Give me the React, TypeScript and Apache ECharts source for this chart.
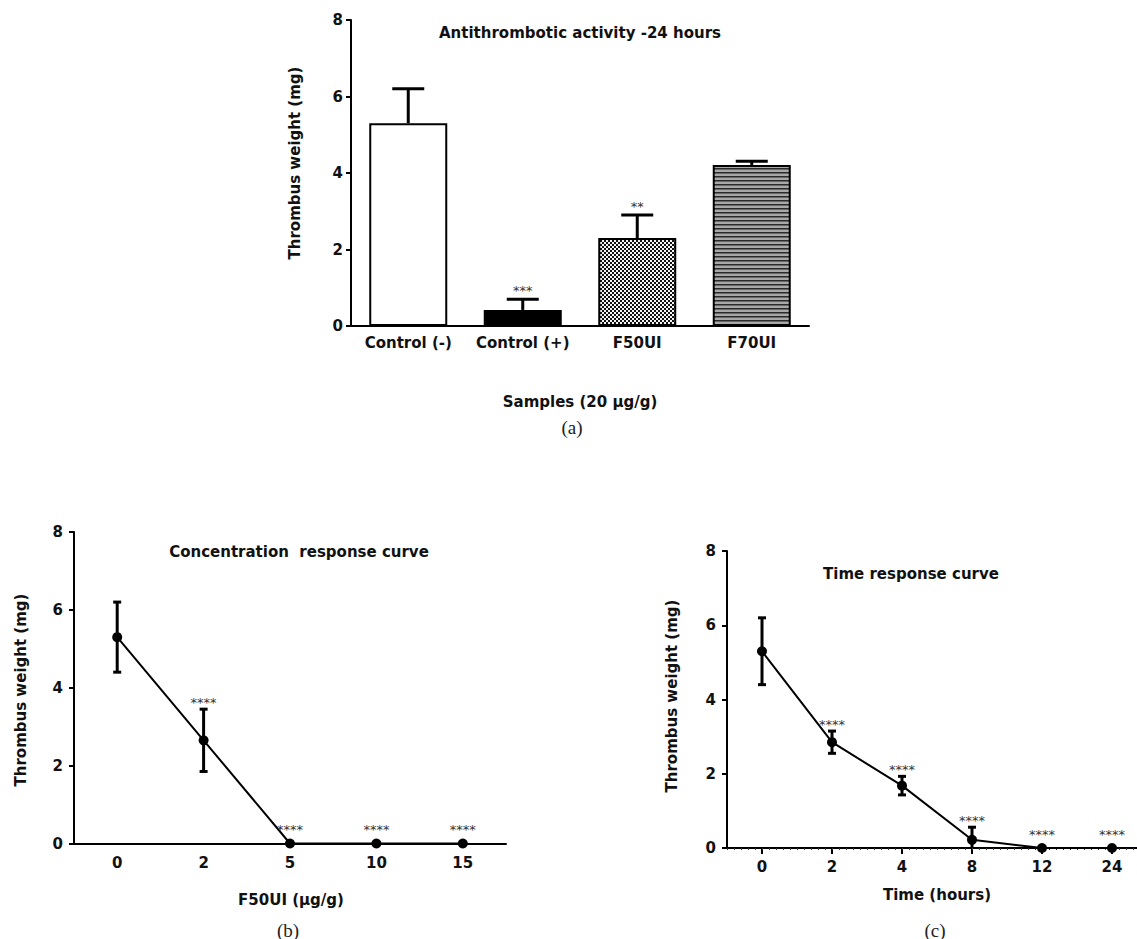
import React, { useEffect, useRef } from "react";
import * as echarts from "echarts";

// ---------- Data ----------
const sampleCategories = ["Control (-)", "Control (+)", "F50UI", "F70UI"];
const sampleMeans = [5.3, 0.42, 2.3, 4.21];
const sampleErrors = [0.9, 0.28, 0.6, 0.1];
const sampleStars = ["", "***", "**", ""];

const concLabels = ["0", "2", "5", "10", "15"];
const concMeans = [5.3, 2.65, 0, 0, 0];
const concErrors = [0.9, 0.8, 0, 0, 0];
const concStars = ["", "****", "****", "****", "****"];

const timeLabels = ["0", "2", "4", "8", "12", "24"];
const timeMeans = [5.3, 2.85, 1.68, 0.22, 0, 0];
const timeErrors = [0.9, 0.3, 0.25, 0.34, 0, 0];
const timeStars = ["", "****", "****", "****", "****", "****"];

const yTicks = [0, 2, 4, 6, 8];

const FONT = "DejaVu Sans";
const SERIF = "Liberation Serif";

function makeChecker(): HTMLCanvasElement {
  const c = document.createElement("canvas");
  c.width = 4;
  c.height = 4;
  const g = c.getContext("2d")!;
  g.fillStyle = "#f4f4f4";
  g.fillRect(0, 0, 4, 4);
  g.fillStyle = "#111";
  g.fillRect(0, 0, 2, 2);
  g.fillRect(2, 2, 2, 2);
  return c;
}

function makeStripes(): HTMLCanvasElement {
  const c = document.createElement("canvas");
  c.width = 4;
  c.height = 4;
  const g = c.getContext("2d")!;
  g.fillStyle = "#a8a8a8";
  g.fillRect(0, 0, 4, 4);
  g.fillStyle = "#2a2a2a";
  g.fillRect(0, 0, 4, 1);
  g.fillStyle = "#666";
  g.fillRect(0, 1, 4, 1);
  return c;
}

const axisLabelStyle = {
  fontFamily: FONT,
  fontWeight: "bold" as const,
  fontSize: 15,
  color: "#111",
};

function yAxisFor(gridIndex: number, margin: number) {
  return {
    type: "value",
    gridIndex,
    min: 0,
    max: 8,
    interval: 2,
    axisLine: { show: true, onZero: false, lineStyle: { color: "#000", width: 2 } },
    axisTick: { show: true, length: 5, lineStyle: { color: "#000", width: 2 } },
    axisLabel: { ...axisLabelStyle, margin, formatter: (v: number) => (yTicks.includes(v) ? String(v) : "") },
    splitLine: { show: false },
  };
}

function errorRender(stars: string[], withLow: boolean, capW: number, lw: number, zeroOffset: number, offset: number) {
  return (params: any, api: any) => {
    const x = api.value(0);
    const m = api.value(1);
    const e = api.value(2);
    const top = api.coord([x, m + e]);
    const mid = api.coord([x, m]);
    const low = api.coord([x, Math.max(0, m - e)]);
    const children: any[] = [];
    const ls = { stroke: "#000", lineWidth: lw };
    if (e > 0) {
      const y0 = withLow ? low[1] : mid[1];
      children.push({ type: "line", shape: { x1: top[0], y1: top[1], x2: top[0], y2: y0 }, style: ls });
      children.push({ type: "line", shape: { x1: top[0] - capW / 2, y1: top[1], x2: top[0] + capW / 2, y2: top[1] }, style: ls });
      if (withLow && m - e > 0) {
        children.push({ type: "line", shape: { x1: low[0] - capW / 2, y1: low[1], x2: low[0] + capW / 2, y2: low[1] }, style: ls });
      }
    }
    const s = stars[params.dataIndex];
    if (s) {
      const off = e > 0 || m > 0 ? offset : zeroOffset;
      children.push({
        type: "text",
        x: top[0],
        y: top[1] - off,
        style: { text: s, font: `13px "${FONT}"`, fill: "#333", align: "center", verticalAlign: "middle" },
      });
    }
    return { type: "group", children };
  };
}

function textEl(text: string, x: number, y: number, opts: any = {}) {
  return {
    type: "text",
    x,
    y,
    rotation: opts.rotation || 0,
    style: {
      text,
      font: opts.font || `bold 15px "${FONT}"`,
      fill: opts.fill || "#111",
      align: "center",
      verticalAlign: "middle",
      textAlign: "center",
      textVerticalAlign: "middle",
    },
  };
}

export default function App() {
  const ref = useRef<HTMLDivElement>(null);

  useEffect(() => {
    if (!ref.current) return;
    const chart = echarts.init(ref.current, undefined, { renderer: "svg" });
    const checker = makeChecker();
    const stripes = makeStripes();
    const barFills: any[] = [
      "#ffffff",
      "#000000",
      { image: checker, repeat: "repeat" },
      { image: stripes, repeat: "repeat" },
    ];

    const cMin = -0.5;
    const cMax = -0.5 + 410 / 70;
    const minorVals: number[] = [];
    for (let i = 0; i <= 58; i++) minorVals.push(Math.round((cMin + i * 0.1) * 1000) / 1000);

    const option: any = {
      animation: false,
      backgroundColor: "#fff",
      grid: [
        { left: 351, top: 20, width: 458, height: 306 },
        { left: 74, top: 532, width: 432, height: 311.5 },
        { left: 727, top: 551, width: 410, height: 297 },
      ],
      xAxis: [
        {
          type: "category",
          gridIndex: 0,
          data: sampleCategories,
          boundaryGap: true,
          axisLine: { onZero: false, lineStyle: { color: "#000", width: 2 } },
          axisTick: { alignWithLabel: true, length: 6, lineStyle: { color: "#000", width: 2 } },
          axisLabel: { ...axisLabelStyle, margin: 9, interval: 0 },
        },
        {
          type: "category",
          gridIndex: 1,
          data: concLabels,
          boundaryGap: true,
          axisLine: { onZero: false, lineStyle: { color: "#000", width: 2 } },
          axisTick: { alignWithLabel: true, length: 6, lineStyle: { color: "#000", width: 2 } },
          axisLabel: { ...axisLabelStyle, margin: 12, interval: 0 },
        },
        {
          type: "value",
          gridIndex: 2,
          position: "bottom",
          min: cMin,
          max: cMax,
          axisLine: { onZero: false, lineStyle: { color: "#000", width: 2 } },
          axisTick: { show: true, length: 6, customValues: timeLabels.map((_, i) => i), lineStyle: { color: "#000", width: 2 } },
          axisLabel: {
            ...axisLabelStyle,
            margin: 11,
            customValues: timeLabels.map((_, i) => i),
            formatter: (v: number) => timeLabels[Math.round(v)] ?? "",
          },
          splitLine: { show: false },
        },
        {
          type: "value",
          gridIndex: 2,
          position: "bottom",
          min: cMin,
          max: cMax,
          axisLine: { show: false, onZero: false },
          axisTick: { show: true, length: 2, customValues: minorVals, lineStyle: { color: "#333", width: 1 } },
          axisLabel: { show: false },
          splitLine: { show: false },
        },
      ],
      yAxis: [yAxisFor(0, 8), yAxisFor(1, 11), yAxisFor(2, 11)],
      series: [
        {
          type: "bar",
          xAxisIndex: 0,
          yAxisIndex: 0,
          barWidth: 78,
          data: sampleMeans.map((v, i) => ({
            value: v,
            itemStyle: { color: barFills[i], borderColor: "#000", borderWidth: 2 },
          })),
          z: 2,
        },
        {
          type: "custom",
          xAxisIndex: 0,
          yAxisIndex: 0,
          itemStyle: { color: "#333" },
          renderItem: errorRender(sampleStars, false, 32, 3, 12, 9),
          data: sampleMeans.map((v, i) => [i, v, sampleErrors[i]]),
          z: 3,
        },
        {
          type: "line",
          xAxisIndex: 1,
          yAxisIndex: 1,
          data: concMeans,
          symbol: "circle",
          symbolSize: 10,
          itemStyle: { color: "#000" },
          lineStyle: { color: "#000", width: 2 },
          z: 3,
        },
        {
          type: "custom",
          xAxisIndex: 1,
          yAxisIndex: 1,
          itemStyle: { color: "#333" },
          renderItem: errorRender(concStars, true, 8, 3, 14, 7),
          data: concMeans.map((v, i) => [i, v, concErrors[i]]),
          z: 4,
        },
        {
          type: "line",
          xAxisIndex: 2,
          yAxisIndex: 2,
          data: timeMeans.map((v, i) => [i, v]),
          symbol: "circle",
          symbolSize: 10,
          itemStyle: { color: "#000" },
          lineStyle: { color: "#000", width: 2 },
          z: 3,
        },
        {
          type: "custom",
          xAxisIndex: 2,
          yAxisIndex: 2,
          itemStyle: { color: "#333" },
          renderItem: errorRender(timeStars, true, 8, 3, 14, 7),
          data: timeMeans.map((v, i) => [i, v, timeErrors[i]]),
          z: 4,
        },
      ],
      graphic: [
        textEl("Antithrombotic activity -24 hours", 580, 33),
        textEl("Concentration  response curve", 299, 552),
        textEl("Time response curve", 911, 574),
        textEl("Thrombus weight (mg)", 295, 163, { rotation: Math.PI / 2 }),
        textEl("Thrombus weight (mg)", 21, 690, { rotation: Math.PI / 2 }),
        textEl("Thrombus weight (mg)", 672, 696, { rotation: Math.PI / 2 }),
        textEl("Samples (20 µg/g)", 580, 402),
        textEl("F50UI (µg/g)", 291, 900),
        textEl("Time (hours)", 937, 895),
        textEl("(a)", 572, 427, { font: `19px "${SERIF}"`, fill: "#222" }),
        textEl("(b)", 288, 930, { font: `19px "${SERIF}"`, fill: "#222" }),
        textEl("(c)", 935, 930, { font: `19px "${SERIF}"`, fill: "#222" }),
      ],
    };

    chart.setOption(option);
    return () => chart.dispose();
  }, []);

  return (
    <div
      ref={ref}
      style={{ position: "absolute", left: 0, top: 0, width: 1137, height: 939, background: "#fff" }}
    />
  );
}
